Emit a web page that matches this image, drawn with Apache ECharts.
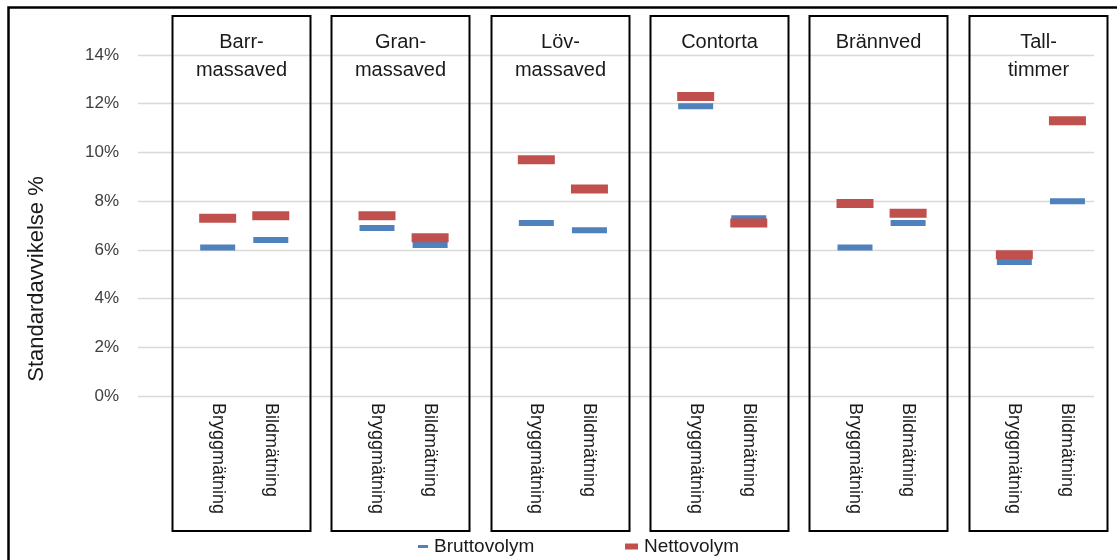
<!DOCTYPE html>
<html>
<head>
<meta charset="utf-8">
<script src="https://cdn.jsdelivr.net/npm/echarts@6/dist/echarts.min.js"></script>
<style>
html,body{margin:0;padding:0;background:#fff;}
#chart{width:1117px;height:560px;}
</style>
</head>
<body>
<div id="chart"></div>
<script>
// ---- data ----
const groups = ['Barr-\nmassaved', 'Gran-\nmassaved', 'Löv-\nmassaved', 'Contorta', 'Brännved', 'Tall-\ntimmer'];
const methods = ['Bryggmätning', 'Bildmätning'];
const brutto = [6.1, 6.4, 6.9, 6.2, 7.1, 6.8, 11.9, 7.3, 6.1, 7.1, 5.5, 8.0];
const netto  = [7.3, 7.4, 7.4, 6.5, 9.7, 8.5, 12.3, 7.1, 7.9, 7.5, 5.8, 11.3];
const yTicks = [0, 2, 4, 6, 8, 10, 12, 14];
const seriesNames = ['Bruttovolym', 'Nettovolym'];

// ---- build axis categories: [gap, method1, method2] per group ----
const cats = [];
const catLabels = [];
groups.forEach((g, gi) => {
  cats.push('gap' + gi); catLabels.push('');
  methods.forEach((m, mi) => { cats.push('c' + gi + '_' + mi); catLabels.push(m); });
});
const catIndex = i => Math.floor(i / methods.length) * (methods.length + 1) + 1 + (i % methods.length);

const FONT = '"Liberation Sans", Arial, sans-serif';
const chart = echarts.init(document.getElementById('chart'), null, {renderer: 'canvas'});

const option = {
  animation: false,
  backgroundColor: '#fff',
  grid: {left: 138, right: 23, top: 55, bottom: 164},
  xAxis: {
    type: 'category',
    data: cats,
    axisLine: {show: false},
    axisTick: {show: false},
    axisLabel: {
      interval: 0, rotate: -90, margin: 7,
      fontFamily: FONT, fontSize: 18, color: '#1a1a1a',
      formatter: (v, idx) => catLabels[idx]
    },
    splitLine: {show: false}
  },
  yAxis: {
    type: 'value',
    min: yTicks[0], max: yTicks[yTicks.length - 1], interval: yTicks[1] - yTicks[0],
    axisLine: {show: false},
    axisTick: {show: false},
    axisLabel: {formatter: '{value}%', fontFamily: FONT, fontSize: 17, color: '#404040', margin: 19},
    splitLine: {lineStyle: {color: '#d9d9d9', width: 1.3}}
  },
  legend: [
    {data: [{name: seriesNames[0], icon: 'rect'}], left: 418, top: 537, padding: 0,
     itemWidth: 10, itemHeight: 3, itemGap: 0,
     textStyle: {fontFamily: FONT, fontSize: 19, color: '#1a1a1a', padding: [0, 0, 0, 1]}},
    {data: [{name: seriesNames[1], icon: 'rect'}], left: 625, top: 537, padding: 0,
     itemWidth: 13, itemHeight: 6, itemGap: 0,
     textStyle: {fontFamily: FONT, fontSize: 19, color: '#1a1a1a', padding: [0, 0, 0, 1]}}
  ],
  graphic: [
    {type: 'rect', shape: {x: 8.5, y: 7.5, width: 1300, height: 700},
     style: {fill: 'none', stroke: '#000', lineWidth: 2.5}, z: 100, silent: true},
    {type: 'text', x: 37, y: 279, rotation: Math.PI / 2,
     style: {text: 'Standardavvikelse %', fontFamily: FONT, fontSize: 22, fill: '#1a1a1a',
             align: 'center', verticalAlign: 'middle'}, silent: true}
  ],
  series: [
    {
      type: 'custom',
      name: 'panels',
      clip: false,
      silent: true,
      z: 1,
      data: groups.map((g, gi) => [gi * 3 + 1, gi * 3 + 2, gi]),
      renderItem: function (params, api) {
        const band = api.size([1, 0])[0];
        const xa = api.coord([api.value(0), 0])[0];
        const xb = api.coord([api.value(1), 0])[0];
        const left = Math.round(xa - 0.86 * band) + 0.5;
        const right = Math.round(xb + 0.74 * band) + 0.5;
        const top = 16, bottom = 531;
        const gi = api.value(2);
        return {
          type: 'group',
          children: [
            {type: 'rect', shape: {x: left, y: top, width: right - left, height: bottom - top},
             style: {fill: 'none', stroke: '#000', lineWidth: 2}},
            {type: 'text', x: (left + right) / 2, y: 28,
             style: {text: groups[gi], fontFamily: FONT, fontSize: 20, fill: '#1a1a1a',
                     align: 'center', verticalAlign: 'top', lineHeight: 28}}
          ]
        };
      }
    },
    {
      type: 'scatter',
      name: seriesNames[0],
      symbol: 'rect',
      symbolSize: [35, 6],
      itemStyle: {color: '#4F81BD', opacity: 1},
      z: 3,
      data: brutto.map((v, i) => [catIndex(i), v])
    },
    {
      type: 'scatter',
      name: seriesNames[1],
      symbol: 'rect',
      symbolSize: [37, 9],
      itemStyle: {color: '#C0504D', opacity: 1},
      z: 4,
      data: netto.map((v, i) => [catIndex(i), v])
    }
  ]
};
chart.setOption(option);
</script>
</body>
</html>
